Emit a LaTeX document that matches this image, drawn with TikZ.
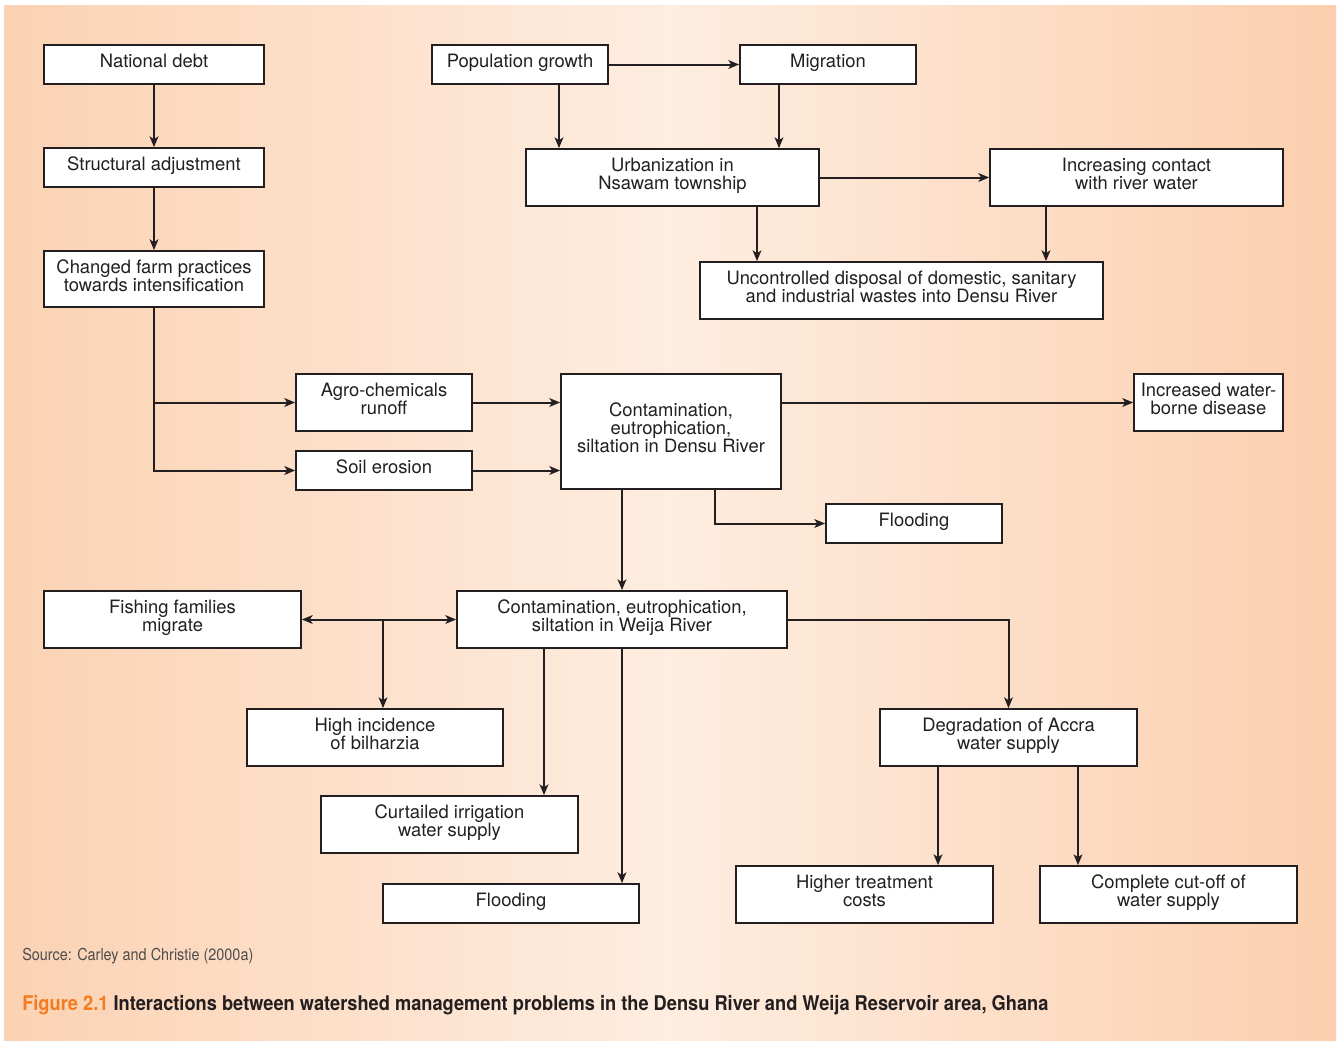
\documentclass[tikz,border=0pt]{standalone}
\usepackage{fontspec}
\setmainfont{TeX Gyre Heros}
\newfontfamily\srcfont[FakeStretch=0.88]{TeX Gyre Heros}
\newfontfamily\capfont[FakeStretch=0.90]{TeX Gyre Heros}
\usetikzlibrary{arrows.meta}
\definecolor{ink}{HTML}{231F20}
\definecolor{peachL}{HTML}{FBD2B3}
\definecolor{peachM}{HTML}{FEEDE0}
\definecolor{peachR}{HTML}{FBCFAE}
\definecolor{orng}{HTML}{F47B20}
\definecolor{srcgray}{HTML}{4D4D4D}
\newcommand\bx[6]{%
  \node[boxst, minimum width={(#4-#2)*0.75pt}, minimum height={(#5-#3)*0.75pt}] (#1) at ({(#2+#4)/2},{(#3+#5)/2}) {};
  \node[txt] (#1t) at ([yshift=1.1pt]#1.center) {#6\vphantom{gy}};}
\begin{document}
\begin{tikzpicture}[x=0.75pt,y=-0.75pt,
  boxst/.style={draw=ink, line width=1.3pt, fill=white, inner sep=0pt},
  txt/.style={text=ink, align=center, font=\fontsize{13.8}{13.5}\selectfont, inner sep=0pt},
  arr/.style={draw=ink, line width=1.5pt, -{Stealth[length=8pt,width=6.5pt,inset=2pt]}},
  darr/.style={draw=ink, line width=1.5pt, {Stealth[length=8pt,width=6.5pt,inset=2pt]}-{Stealth[length=8pt,width=6.5pt,inset=2pt]}},
]
\useasboundingbox (0,0) rectangle (1340,1040);
\fill[white] (0,0) rectangle (1340,1040);
\shade[left color=peachL, right color=peachR, middle color=peachM] (4,5) rectangle (1336,1040);

\bx{nd}{44}{45}{264}{84}{National debt}
\bx{sa}{44}{148}{264}{187}{Structural adjustment}
\bx{cf}{44}{251}{264}{307}{Changed farm practices\\towards intensification}
\bx{pg}{432}{45}{608}{84}{Population growth}
\bx{mg}{740}{45}{916}{84}{Migration}
\bx{ur}{526}{149}{819}{206}{Urbanization in\\Nsawam township}
\bx{ic}{990}{149}{1283}{206}{Increasing contact\\with river water}
\bx{ud}{700}{262}{1103}{319}{Uncontrolled disposal of domestic, sanitary\\and industrial wastes into Densu River}
\bx{ag}{296}{374}{472}{431}{Agro-chemicals\\runoff}
\bx{se}{296}{451}{472}{490}{Soil erosion}
\bx{dr}{561}{374}{781}{489}{Contamination,\\eutrophication,\\siltation in Densu River}
\bx{wd}{1134}{374}{1283}{431}{Increased water-\\borne disease}
\bx{fa}{826}{504}{1002}{543}{Flooding}
\bx{ff}{44}{591}{301}{648}{Fishing families\\migrate}
\bx{wr}{457}{591}{787}{648}{Contamination, eutrophication,\\siltation in Weija River}
\bx{hb}{247}{709}{503}{766}{High incidence\\of bilharzia}
\bx{ci}{321}{796}{578}{853}{Curtailed irrigation\\water supply}
\bx{fb}{383}{884}{639}{923}{Flooding}
\bx{da}{880}{709}{1137}{766}{Degradation of Accra\\water supply}
\bx{ht}{736}{866}{993}{923}{Higher treatment\\costs}
\bx{cc}{1040}{866}{1297}{923}{Complete cut-off of\\water supply}

\foreach \x in {559,779,757,1046,715,383,544,938,1078} {\coordinate (v\x) at (\x,0);}

\draw[arr] (nd.south) -- (sa.north);
\draw[arr] (sa.south) -- (cf.north);
\draw[arr] (cf.south) |- (se.west);
\draw[arr] (cf.south |- ag.west) -- (ag.west);
\draw[arr] (pg.east) -- (mg.west);
\draw[arr] (pg.south -| v559) -- (ur.north -| v559);
\draw[arr] (mg.south -| v779) -- (ur.north -| v779);
\draw[arr] (ur.east) -- (ic.west);
\draw[arr] (ur.south -| v757) -- (ud.north -| v757);
\draw[arr] (ic.south -| v1046) -- (ud.north -| v1046);
\draw[arr] (ag.east) -- (dr.west |- ag.east);
\draw[arr] (se.east) -- (dr.west |- se.east);
\draw[arr] (dr.east |- wd.west) -- (wd.west);
\draw[arr] (dr.south -| v715) |- (fa.west);
\draw[arr] (dr.south -| wr.north) -- (wr.north);
\draw[darr] (ff.east) -- (wr.west);
\draw[arr] (ff.east -| v383) -- (hb.north -| v383);
\draw[arr] (wr.south -| v544) -- (ci.north -| v544);
\draw[arr] (wr.south) -- (fb.north -| wr.south);
\draw[arr] (wr.east) -| (da.north);
\draw[arr] (da.south -| v938) -- (ht.north -| v938);
\draw[arr] (da.south -| v1078) -- (cc.north -| v1078);

\node[anchor=west, text=srcgray, font=\srcfont\fontsize{12.3}{12.3}\selectfont, inner sep=0pt] (src) at (22,956) {Source: Carley and Christie (2000a)};
\node[anchor=west, text=ink, font=\capfont\bfseries\fontsize{15.2}{15.2}\selectfont, inner sep=0pt] (cap) at (22,1005) {{\color{orng}Figure 2.1} Interactions between watershed management problems in the Densu River and Weija Reservoir area, Ghana};
\end{tikzpicture}
\end{document}
